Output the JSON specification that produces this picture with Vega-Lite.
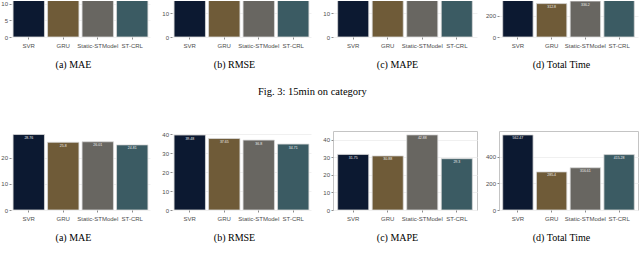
{
  "$schema": "https://vega.github.io/schema/vega-lite/v6.json",
  "padding": 0,
  "background": "white",
  "datasets": {
    "mae15": [{"model": "SVR", "value": 15.82}, {"model": "GRU", "value": 13.95}, {"model": "Static-STModel", "value": 14.21}, {"model": "ST-CRL", "value": 13.1}],
    "rmse15": [{"model": "SVR", "value": 24.31}, {"model": "GRU", "value": 22.7}, {"model": "Static-STModel", "value": 22.15}, {"model": "ST-CRL", "value": 20.83}],
    "mape15": [{"model": "SVR", "value": 21.5}, {"model": "GRU", "value": 20.3}, {"model": "Static-STModel", "value": 27.8}, {"model": "ST-CRL", "value": 19.4}],
    "time15": [{"model": "SVR", "value": 562.1}, {"model": "GRU", "value": 312.8}, {"model": "Static-STModel", "value": 336.2}, {"model": "ST-CRL", "value": 418.3}],
    "mae": [{"model": "SVR", "value": 28.76}, {"model": "GRU", "value": 25.8}, {"model": "Static-STModel", "value": 26.01}, {"model": "ST-CRL", "value": 24.81}],
    "rmse": [{"model": "SVR", "value": 39.48}, {"model": "GRU", "value": 37.65}, {"model": "Static-STModel", "value": 36.8}, {"model": "ST-CRL", "value": 34.71}],
    "mape": [{"model": "SVR", "value": 31.75}, {"model": "GRU", "value": 30.88}, {"model": "Static-STModel", "value": 42.88}, {"model": "ST-CRL", "value": 29.3}],
    "time": [{"model": "SVR", "value": 562.47}, {"model": "GRU", "value": 285.4}, {"model": "Static-STModel", "value": 316.61}, {"model": "ST-CRL", "value": 415.28}]
  },
  "spacing": 32,
  "vconcat": [
    {
      "bounds": "flush",
      "spacing": 22,
      "title": {"text": "Fig. 3: 15min on category", "orient": "bottom", "anchor": "middle", "font": "Liberation Serif", "fontSize": 10.5, "fontWeight": "normal", "color": "black", "offset": 18, "dx": -7},
      "hconcat": [
        {
          "width": 139, "height": 36,
          "data": {"name": "mae15"},
          "encoding": {"y": {"field": "value", "type": "quantitative", "scale": {"domain": [0, 10.8], "nice": false}, "axis": {"values": [0, 5, 10], "title": null}}},
          "layer": [
            {"mark": {"type": "bar", "clip": true, "stroke": "#d9d9d9", "strokeWidth": 0.8},
             "encoding": {"x": {"field": "model", "type": "nominal", "sort": null, "scale": {"paddingInner": 0.09, "paddingOuter": 0.06}, "axis": {"title": "(a) MAE", "titleX": 62, "titleY": 22}},
                          "color": {"field": "model", "type": "nominal", "scale": {"domain": ["SVR", "GRU", "Static-STModel", "ST-CRL"], "range": ["#0c1931", "#6f5b38", "#686661", "#3b5b63"]}, "legend": null}}}
          ]
        },
        {
          "width": 139, "height": 36,
          "data": {"name": "rmse15"},
          "encoding": {"y": {"field": "value", "type": "quantitative", "scale": {"domain": [0, 15.2], "nice": false}, "axis": {"values": [0, 10], "title": null}}},
          "layer": [
            {"mark": {"type": "bar", "clip": true, "stroke": "#d9d9d9", "strokeWidth": 0.8},
             "encoding": {"x": {"field": "model", "type": "nominal", "sort": null, "scale": {"paddingInner": 0.09, "paddingOuter": 0.06}, "axis": {"title": "(b) RMSE", "titleX": 62, "titleY": 22}},
                          "color": {"field": "model", "type": "nominal", "scale": {"domain": ["SVR", "GRU", "Static-STModel", "ST-CRL"], "range": ["#0c1931", "#6f5b38", "#686661", "#3b5b63"]}, "legend": null}}}
          ]
        },
        {
          "width": 144, "height": 36,
          "data": {"name": "mape15"},
          "encoding": {"y": {"field": "value", "type": "quantitative", "scale": {"domain": [0, 15.2], "nice": false}, "axis": {"values": [0, 10], "title": null}}},
          "layer": [
            {"mark": {"type": "bar", "clip": true, "stroke": "#d9d9d9", "strokeWidth": 0.8},
             "encoding": {"x": {"field": "model", "type": "nominal", "sort": null, "scale": {"paddingInner": 0.1, "paddingOuter": 0.135}, "axis": {"title": "(c) MAPE", "titleX": 64, "titleY": 22}},
                          "color": {"field": "model", "type": "nominal", "scale": {"domain": ["SVR", "GRU", "Static-STModel", "ST-CRL"], "range": ["#0c1931", "#6f5b38", "#686661", "#3b5b63"]}, "legend": null}}}
          ]
        },
        {
          "width": 139, "height": 36,
          "data": {"name": "time15"},
          "encoding": {"y": {"field": "value", "type": "quantitative", "scale": {"domain": [0, 337], "nice": false}, "axis": {"values": [0, 200], "title": null}}},
          "layer": [
            {"mark": {"type": "bar", "clip": true, "stroke": "#d9d9d9", "strokeWidth": 0.8},
             "encoding": {"x": {"field": "model", "type": "nominal", "sort": null, "scale": {"paddingInner": 0.1, "paddingOuter": 0.11}, "axis": {"title": "(d) Total Time", "titleX": 62, "titleY": 22}},
                          "color": {"field": "model", "type": "nominal", "scale": {"domain": ["SVR", "GRU", "Static-STModel", "ST-CRL"], "range": ["#0c1931", "#6f5b38", "#686661", "#3b5b63"]}, "legend": null}}},
            {"transform": [{"filter": "datum.value < 337"}],
             "mark": {"type": "text", "clip": true, "color": "#eeeeee", "fontSize": 3.5, "baseline": "top", "dy": 1.5},
             "encoding": {"x": {"field": "model", "type": "nominal", "sort": null}, "text": {"field": "value", "type": "nominal"}}}
          ]
        }
      ]
    },
    {
      "bounds": "flush",
      "spacing": 22,
      "hconcat": [
        {
          "width": 139, "height": 79,
          "data": {"name": "mae"},
          "encoding": {"y": {"field": "value", "type": "quantitative", "scale": {"domain": [0, 30.1], "nice": false}, "axis": {"values": [0, 10, 20], "title": null}}},
          "layer": [
            {"mark": {"type": "bar", "clip": true, "stroke": "#d9d9d9", "strokeWidth": 0.8},
             "encoding": {"x": {"field": "model", "type": "nominal", "sort": null, "scale": {"paddingInner": 0.09, "paddingOuter": 0.06}, "axis": {"title": "(a) MAE", "titleX": 62, "titleY": 22}},
                          "color": {"field": "model", "type": "nominal", "scale": {"domain": ["SVR", "GRU", "Static-STModel", "ST-CRL"], "range": ["#0c1931", "#6f5b38", "#686661", "#3b5b63"]}, "legend": null}}},
            {"mark": {"type": "text", "clip": true, "color": "#eeeeee", "fontSize": 3.5, "baseline": "top", "dy": 1.5},
             "encoding": {"x": {"field": "model", "type": "nominal", "sort": null}, "text": {"field": "value", "type": "nominal"}}},
            {"data": {"values": [{}]}, "mark": {"type": "rule", "color": "#c4c4c4", "strokeWidth": 1.2}, "encoding": {"y": {"datum": 30.1}}}
          ]
        },
        {
          "width": 139, "height": 79,
          "data": {"name": "rmse"},
          "encoding": {"y": {"field": "value", "type": "quantitative", "scale": {"domain": [0, 41.6], "nice": false}, "axis": {"values": [0, 10, 20, 30, 40], "title": null}}},
          "layer": [
            {"mark": {"type": "bar", "clip": true, "stroke": "#d9d9d9", "strokeWidth": 0.8},
             "encoding": {"x": {"field": "model", "type": "nominal", "sort": null, "scale": {"paddingInner": 0.09, "paddingOuter": 0.06}, "axis": {"title": "(b) RMSE", "titleX": 62, "titleY": 22}},
                          "color": {"field": "model", "type": "nominal", "scale": {"domain": ["SVR", "GRU", "Static-STModel", "ST-CRL"], "range": ["#0c1931", "#6f5b38", "#686661", "#3b5b63"]}, "legend": null}}},
            {"mark": {"type": "text", "clip": true, "color": "#eeeeee", "fontSize": 3.5, "baseline": "top", "dy": 1.5},
             "encoding": {"x": {"field": "model", "type": "nominal", "sort": null}, "text": {"field": "value", "type": "nominal"}}},
            {"data": {"values": [{}]}, "mark": {"type": "rule", "color": "#c4c4c4", "strokeWidth": 1.2}, "encoding": {"y": {"datum": 41.6}}}
          ]
        },
        {
          "width": 144, "height": 79,
          "view": {"stroke": "#c4c4c4"},
          "data": {"name": "mape"},
          "encoding": {"y": {"field": "value", "type": "quantitative", "scale": {"domain": [0, 45.1], "nice": false}, "axis": {"values": [0, 10, 20, 30, 40], "title": null}}},
          "layer": [
            {"mark": {"type": "bar", "clip": true, "stroke": "#d9d9d9", "strokeWidth": 0.8},
             "encoding": {"x": {"field": "model", "type": "nominal", "sort": null, "scale": {"paddingInner": 0.1, "paddingOuter": 0.135}, "axis": {"title": "(c) MAPE", "titleX": 64, "titleY": 22}},
                          "color": {"field": "model", "type": "nominal", "scale": {"domain": ["SVR", "GRU", "Static-STModel", "ST-CRL"], "range": ["#0c1931", "#6f5b38", "#686661", "#3b5b63"]}, "legend": null}}},
            {"mark": {"type": "text", "clip": true, "color": "#eeeeee", "fontSize": 3.5, "baseline": "top", "dy": 1.5},
             "encoding": {"x": {"field": "model", "type": "nominal", "sort": null}, "text": {"field": "value", "type": "nominal"}}}
          ]
        },
        {
          "width": 139, "height": 79,
          "view": {"stroke": "#c4c4c4"},
          "data": {"name": "time"},
          "encoding": {"y": {"field": "value", "type": "quantitative", "scale": {"domain": [0, 592], "nice": false}, "axis": {"values": [0, 200, 400], "title": null}}},
          "layer": [
            {"mark": {"type": "bar", "clip": true, "stroke": "#d9d9d9", "strokeWidth": 0.8},
             "encoding": {"x": {"field": "model", "type": "nominal", "sort": null, "scale": {"paddingInner": 0.1, "paddingOuter": 0.11}, "axis": {"title": "(d) Total Time", "titleX": 62, "titleY": 22}},
                          "color": {"field": "model", "type": "nominal", "scale": {"domain": ["SVR", "GRU", "Static-STModel", "ST-CRL"], "range": ["#0c1931", "#6f5b38", "#686661", "#3b5b63"]}, "legend": null}}},
            {"mark": {"type": "text", "clip": true, "color": "#eeeeee", "fontSize": 3.5, "baseline": "top", "dy": 1.5},
             "encoding": {"x": {"field": "model", "type": "nominal", "sort": null}, "text": {"field": "value", "type": "nominal"}}}
          ]
        }
      ]
    }
  ],
  "config": {
    "view": {"stroke": null},
    "axis": {"labelFont": "Liberation Sans", "labelFontSize": 6, "labelColor": "#4d4d4d", "tickColor": "#8c8c8c", "tickSize": 2, "domain": false, "labelPadding": 1.5, "gridColor": "#f0f0f0", "titleFont": "Liberation Serif", "titleFontSize": 10, "titleFontWeight": "normal", "titleColor": "black", "titleBaseline": "top"},
    "axisX": {"grid": false, "labelAngle": 0, "labelPadding": 3.5},
    "axisY": {"grid": true}
  }
}
